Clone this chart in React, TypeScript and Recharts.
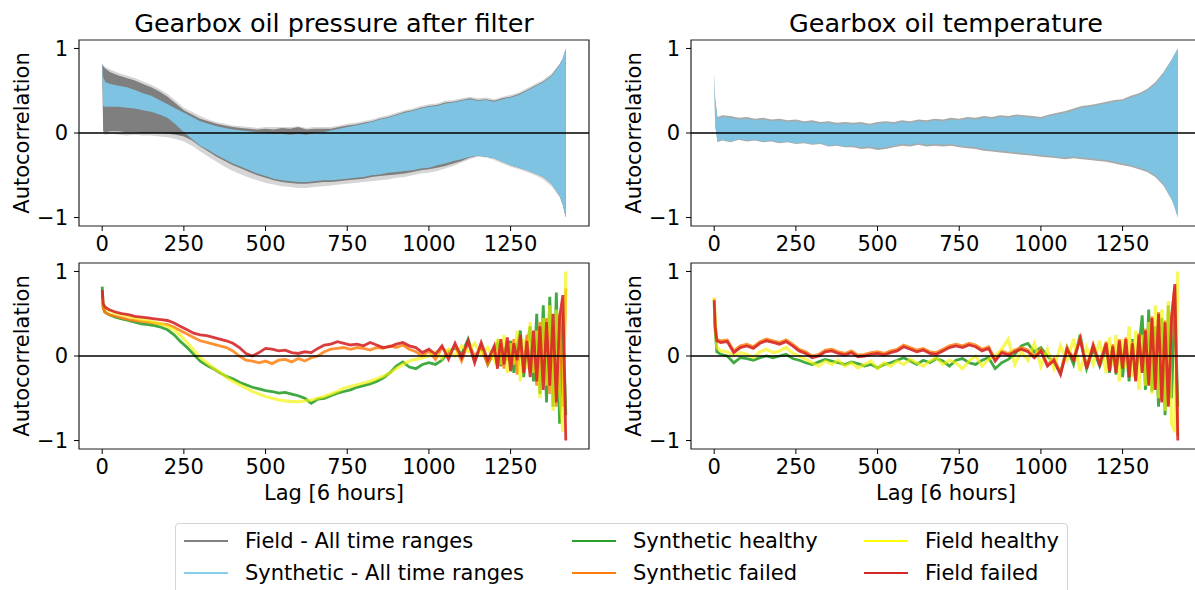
import React from 'react';
import {
  ComposedChart, LineChart, Line, Area, XAxis, YAxis, ReferenceLine, ReferenceArea
} from 'recharts';

// lags used for the envelope bands (top row)
const bandLags = [
  0, 3, 10, 25, 50, 75, 100, 125, 150, 175, 200, 225,
  250, 275, 300, 325, 350, 375, 400, 425, 450, 475,
  500, 525, 550, 575, 600, 625, 650, 675, 700, 725,
  750, 775, 800, 825, 850, 875, 900, 925, 950, 975,
  1000, 1025, 1050, 1075, 1100, 1125, 1150, 1175, 1200, 1225,
  1250, 1275, 1300, 1325, 1350, 1375, 1400,
  1410, 1419,
];

// pressure: synthetic envelope
const pSynthHi = [
  0.82, 0.66, 0.6, 0.58, 0.56, 0.54, 0.51, 0.47, 0.44, 0.39, 0.34, 0.29,
  0.24, 0.19, 0.14, 0.11, 0.08, 0.06, 0.04, 0.03, 0.02, 0.01,
  0.0, -0.01, -0.01, -0.02, -0.01, -0.02, 0.0, 0.01, 0.03, 0.05,
  0.07, 0.09, 0.11, 0.13, 0.16, 0.18, 0.21, 0.24, 0.26, 0.29,
  0.31, 0.32, 0.35, 0.36, 0.38, 0.4, 0.38, 0.39, 0.37, 0.4,
  0.42, 0.45, 0.5, 0.55, 0.6, 0.67, 0.8,
  0.88, 1.0,
];
const pSynthLo = [
  0.8, 0.32, 0.31, 0.31, 0.31, 0.3, 0.29, 0.27, 0.25, 0.22, 0.18, 0.1,
  0.01, -0.07, -0.15, -0.2, -0.26, -0.31, -0.36, -0.4, -0.44, -0.48,
  -0.51, -0.54, -0.56, -0.57, -0.58, -0.58, -0.57, -0.56, -0.56, -0.55,
  -0.54, -0.53, -0.52, -0.5, -0.49, -0.47, -0.46, -0.45, -0.44, -0.42,
  -0.41, -0.38, -0.36, -0.33, -0.31, -0.28, -0.27, -0.28, -0.3, -0.34,
  -0.38, -0.41, -0.44, -0.48, -0.52, -0.6, -0.74,
  -0.85, -1.0,
];
// pressure: field envelope (dense core and faint outer lines)
const pFieldCoreHi = [
  0.82, 0.79, 0.76, 0.72, 0.68, 0.65, 0.62, 0.58, 0.54, 0.49, 0.43, 0.35,
  0.27, 0.22, 0.17, 0.14, 0.11, 0.09, 0.07, 0.06, 0.05, 0.04,
  0.05, 0.04, 0.06, 0.05, 0.07, 0.04, 0.05, 0.05, 0.05, 0.07,
  0.09, 0.1, 0.12, 0.14, 0.17, 0.19, 0.22, 0.25, 0.27, 0.3,
  0.32, 0.33, 0.36, 0.37, 0.39, 0.41, 0.39, 0.4, 0.38, 0.41,
  0.43, 0.46, 0.51, 0.56, 0.61, 0.68, 0.81,
  0.88, 1.0,
];
const pFieldCoreLo = [
  0.8, 0.02, 0.01, 0.02, 0.02, 0.01, 0.01, 0.0, 0.0, 0.0, -0.01, -0.02,
  -0.04, -0.09, -0.16, -0.22, -0.28, -0.33, -0.38, -0.42, -0.46, -0.5,
  -0.53, -0.56, -0.58, -0.59, -0.6, -0.6, -0.59, -0.58, -0.58, -0.57,
  -0.56, -0.55, -0.54, -0.52, -0.51, -0.5, -0.49, -0.48, -0.46, -0.44,
  -0.43, -0.41, -0.39, -0.36, -0.33, -0.29, -0.27, -0.28, -0.3, -0.34,
  -0.38, -0.41, -0.44, -0.48, -0.52, -0.6, -0.74,
  -0.85, -1.0,
];
const pFieldOuterHi = [
  0.82, 0.8, 0.78, 0.75, 0.71, 0.68, 0.65, 0.61, 0.57, 0.52, 0.46, 0.38,
  0.3, 0.25, 0.2, 0.16, 0.13, 0.11, 0.09, 0.08, 0.07, 0.06,
  0.07, 0.07, 0.07, 0.07, 0.08, 0.06, 0.07, 0.07, 0.07, 0.09,
  0.11, 0.12, 0.14, 0.16, 0.19, 0.21, 0.24, 0.27, 0.29, 0.32,
  0.34, 0.35, 0.38, 0.39, 0.41, 0.43, 0.41, 0.42, 0.4, 0.43,
  0.45, 0.48, 0.53, 0.58, 0.63, 0.7, 0.82,
  0.89, 1.0,
];
const pFieldOuterLo = [
  0.8, -0.01, -0.02, -0.01, -0.02, -0.03, -0.02, -0.03, -0.03, -0.04, -0.05, -0.07,
  -0.1, -0.15, -0.22, -0.28, -0.34, -0.4, -0.45, -0.49, -0.53, -0.56,
  -0.59, -0.61, -0.63, -0.64, -0.65, -0.65, -0.64, -0.63, -0.62, -0.61,
  -0.6, -0.59, -0.58, -0.57, -0.56, -0.55, -0.53, -0.52, -0.5, -0.48,
  -0.47, -0.45, -0.42, -0.39, -0.35, -0.31, -0.28, -0.29, -0.32, -0.36,
  -0.4, -0.43, -0.46, -0.5, -0.55, -0.63, -0.76,
  -0.86, -1.0,
];

// temperature envelopes
const tSynthHi = [
  0.66, 0.4, 0.17, 0.19, 0.18, 0.16, 0.17, 0.15, 0.16, 0.14, 0.15, 0.13,
  0.14, 0.12, 0.13, 0.11, 0.12, 0.1, 0.11, 0.1, 0.11, 0.09,
  0.11, 0.12, 0.11, 0.13, 0.12, 0.14, 0.13, 0.15, 0.14, 0.16,
  0.15, 0.17, 0.16, 0.18, 0.17, 0.19, 0.18, 0.2, 0.19, 0.18,
  0.17, 0.2, 0.22, 0.24, 0.27, 0.3, 0.31, 0.33, 0.35, 0.37,
  0.38, 0.42, 0.45, 0.5, 0.58, 0.7, 0.86,
  0.93, 1.0,
];
const tSynthLo = [
  0.64, 0.1, -0.1, -0.08, -0.1, -0.07, -0.09, -0.08, -0.1, -0.09, -0.11, -0.1,
  -0.12, -0.11, -0.13, -0.12, -0.15, -0.14, -0.16, -0.15, -0.17, -0.16,
  -0.18, -0.17, -0.15, -0.13, -0.14, -0.12, -0.14, -0.13, -0.14, -0.13,
  -0.15, -0.16, -0.17, -0.19, -0.2, -0.21, -0.22, -0.23, -0.24, -0.25,
  -0.26, -0.27, -0.28, -0.29, -0.28, -0.29, -0.3, -0.31, -0.32, -0.34,
  -0.36, -0.38, -0.41, -0.44, -0.5, -0.6, -0.78,
  -0.88, -1.0,
];
const tFieldHi = [
  0.71, 0.42, 0.19, 0.21, 0.2, 0.18, 0.19, 0.17, 0.18, 0.16, 0.17, 0.15,
  0.16, 0.14, 0.15, 0.13, 0.14, 0.12, 0.13, 0.12, 0.13, 0.11,
  0.13, 0.14, 0.13, 0.15, 0.14, 0.16, 0.15, 0.17, 0.16, 0.18,
  0.17, 0.19, 0.18, 0.2, 0.19, 0.21, 0.2, 0.22, 0.21, 0.2,
  0.19, 0.22, 0.24, 0.26, 0.29, 0.32, 0.33, 0.35, 0.37, 0.39,
  0.4, 0.44, 0.47, 0.52, 0.6, 0.72, 0.87,
  0.94, 1.0,
];
const tFieldLo = [
  0.64, 0.08, -0.11, -0.09, -0.11, -0.08, -0.1, -0.09, -0.11, -0.1, -0.12, -0.11,
  -0.13, -0.12, -0.14, -0.13, -0.16, -0.15, -0.17, -0.17, -0.19, -0.18,
  -0.2, -0.19, -0.17, -0.15, -0.16, -0.14, -0.16, -0.15, -0.16, -0.15,
  -0.17, -0.18, -0.19, -0.21, -0.22, -0.23, -0.24, -0.25, -0.26, -0.27,
  -0.28, -0.29, -0.3, -0.31, -0.3, -0.31, -0.32, -0.33, -0.34, -0.36,
  -0.38, -0.4, -0.43, -0.46, -0.52, -0.62, -0.79,
  -0.89, -1.0,
];

// lags used for the individual lines (bottom row)
const lineLags = [
  0, 3, 8, 20, 40, 60, 80, 100, 120, 140,
  160, 180, 200, 220, 240, 260, 280, 300, 320, 340,
  360, 380, 400, 420, 440, 460, 480, 500, 520, 540,
  560, 580, 600, 620, 640, 660, 680, 700, 720, 740,
  760, 780, 800, 820, 840, 860, 880, 900, 920, 940,
  960, 980, 1000, 1020, 1040, 1060, 1080, 1100, 1120, 1140,
  1160, 1180, 1200,
  1210, 1220, 1230, 1240, 1250, 1260, 1270, 1280, 1290, 1300,
  1310, 1320, 1330, 1340, 1350, 1360, 1370, 1380, 1390, 1400,
  1410, 1419,
];

// pressure lines
const pGreen = [
  0.82, 0.58, 0.52, 0.49, 0.46, 0.44, 0.42, 0.4, 0.38, 0.37,
  0.36, 0.34, 0.31, 0.25, 0.17, 0.1, 0.02, -0.06, -0.11, -0.15,
  -0.2, -0.24, -0.27, -0.31, -0.34, -0.37, -0.39, -0.41, -0.42, -0.44,
  -0.43, -0.45, -0.47, -0.5, -0.56, -0.51, -0.5, -0.47, -0.44, -0.42,
  -0.4, -0.37, -0.35, -0.33, -0.3, -0.26, -0.2, -0.12, -0.07, -0.13,
  -0.15, -0.1, -0.08, -0.1, -0.05, 0.05, 0.1, 0.02, 0.2, -0.05,
  0.12, -0.1, 0.05,
  0.15, -0.12, 0.1, -0.05, 0.18, -0.2, 0.12, 0.3, -0.25, 0.1,
  0.35, -0.3, 0.5, -0.45, 0.6, -0.55, 0.7, -0.6, 0.75, -0.8,
  0.5, -0.7,
];
const pOrange = [
  0.72, 0.56, 0.52, 0.49, 0.47, 0.45, 0.43, 0.42, 0.41, 0.4,
  0.39, 0.38, 0.37, 0.34, 0.3, 0.26, 0.22, 0.18, 0.16, 0.14,
  0.12, 0.1, 0.06, 0.0, -0.05, -0.06, -0.08, -0.06, -0.09, -0.05,
  -0.04, -0.07, -0.03, -0.06, -0.02, 0.0, 0.05, 0.08, 0.09, 0.1,
  0.08, 0.1, 0.09, 0.07, 0.1, 0.09, 0.12, 0.1, 0.13, 0.08,
  0.05, 0.0, 0.06, -0.04, 0.1, 0.02, 0.12, -0.06, 0.15, 0.0,
  0.1, -0.1, 0.08,
  -0.12, 0.15, -0.15, 0.18, -0.1, 0.2, -0.22, 0.12, -0.15, 0.25,
  -0.2, 0.2, -0.35, 0.4, -0.3, 0.45, -0.45, 0.35, -0.6, 0.5,
  -0.6, 0.8,
];
const pYellow = [
  0.68, 0.62, 0.58, 0.54, 0.51, 0.49, 0.47, 0.45, 0.43, 0.42,
  0.4, 0.38, 0.35, 0.31, 0.24, 0.16, 0.07, -0.02, -0.08, -0.14,
  -0.19, -0.25, -0.3, -0.34, -0.38, -0.42, -0.45, -0.48, -0.5, -0.52,
  -0.53, -0.54, -0.54, -0.53, -0.52, -0.5, -0.48, -0.45, -0.42, -0.38,
  -0.36, -0.34, -0.32, -0.3, -0.27, -0.24, -0.2, -0.15, -0.1, -0.06,
  -0.04, -0.02, 0.0, 0.05, -0.03, 0.08, 0.0, 0.12, 0.05, 0.15,
  0.02, 0.1, -0.05,
  0.2, -0.1, 0.25, -0.2, 0.15, -0.1, 0.3, -0.3, 0.2, -0.15,
  0.4, -0.2, 0.3, -0.5, 0.45, -0.35, 0.6, -0.65, 0.55, -0.4,
  -0.9, 1.0,
];
const pRed = [
  0.78, 0.62, 0.58, 0.55, 0.52, 0.5, 0.49, 0.47, 0.46, 0.45,
  0.44, 0.43, 0.42, 0.39, 0.35, 0.31, 0.27, 0.25, 0.24, 0.22,
  0.2, 0.18, 0.15, 0.1, 0.03, 0.0, 0.04, 0.09, 0.08, 0.06,
  0.07, 0.04, 0.03, 0.05, 0.04, 0.09, 0.13, 0.14, 0.17, 0.15,
  0.13, 0.14, 0.12, 0.16, 0.13, 0.1, 0.11, 0.14, 0.16, 0.12,
  0.1, 0.04, 0.08, 0.02, 0.12, -0.04, 0.15, -0.02, 0.18, -0.08,
  0.16, -0.05, 0.12,
  -0.15, 0.2, -0.1, 0.22, -0.18, 0.15, -0.05, 0.25, -0.2, 0.18,
  -0.25, 0.3, -0.3, 0.35, -0.4, 0.4, -0.35, 0.5, -0.55, 0.45,
  0.72, -1.0,
];

// temperature lines
const tGreen = [
  0.62, 0.3, 0.05, 0.02, 0.0, -0.08, -0.02, -0.03, -0.05, -0.02,
  0.0, -0.02, 0.0, 0.02, -0.03, -0.05, -0.08, -0.1, -0.07, -0.04,
  -0.06, -0.08, -0.1, -0.07, -0.09, -0.12, -0.1, -0.14, -0.1, -0.08,
  -0.05, -0.02, -0.06, -0.1, -0.05, -0.08, -0.03, -0.06, -0.12, -0.05,
  -0.03, -0.08, -0.1, -0.05, -0.02, -0.15, -0.08, -0.04, 0.02, 0.12,
  0.15, 0.05, 0.1, 0.0, -0.08, -0.2, 0.1, -0.1, 0.25, -0.15,
  0.08, -0.12, 0.1,
  -0.2, 0.1, -0.22, 0.15, -0.25, 0.12, -0.3, 0.2, -0.28, 0.1,
  0.48, -0.4, 0.55, -0.42, 0.35, -0.6, 0.45, -0.7, 0.6, -0.5,
  0.7, -0.6,
];
const tOrange = [
  0.68, 0.38, 0.2, 0.18, 0.19, 0.06, 0.12, 0.14, 0.11, 0.17,
  0.2, 0.18, 0.16, 0.19, 0.14, 0.08, 0.05, 0.0, 0.02, 0.07,
  0.08, 0.05, 0.03, 0.06, 0.01, 0.02, 0.04, 0.05, 0.03, 0.06,
  0.08, 0.13, 0.1, 0.07, 0.09, 0.05, 0.04, 0.08, 0.12, 0.14,
  0.12, 0.15, 0.13, 0.08, 0.11, -0.04, 0.06, 0.03, 0.07, 0.1,
  0.07, 0.0, 0.08, -0.1, -0.03, -0.2, 0.1, -0.03, 0.22, -0.13,
  0.14, -0.08, 0.17,
  -0.16, 0.14, -0.18, 0.2, -0.13, 0.22, -0.23, 0.17, -0.28, 0.27,
  -0.18, 0.32, -0.33, 0.47, -0.38, 0.52, -0.53, 0.42, -0.58, 0.47,
  0.82, -0.95,
];
const tYellow = [
  0.69, 0.4, 0.1, 0.06, 0.05, 0.0, 0.04, 0.02, -0.02, 0.05,
  0.08, 0.04, 0.06, 0.1, 0.03, 0.0, -0.04, -0.08, -0.12, -0.06,
  -0.1, -0.05, -0.12, -0.08, -0.14, -0.1, -0.06, -0.15, -0.08, -0.12,
  -0.06, -0.1, -0.04, -0.08, -0.12, -0.06, -0.02, -0.1, -0.05, -0.08,
  -0.15, -0.06, 0.0, -0.12, -0.04, 0.0, 0.08, 0.2, -0.1, 0.05,
  -0.05, 0.15, -0.12, 0.08, -0.15, 0.12, -0.05, 0.2, -0.18, 0.1,
  -0.1, 0.18, -0.2,
  0.22, -0.12, 0.25, -0.3, 0.2, -0.15, 0.35, -0.25, 0.3, -0.4,
  0.25, -0.35, 0.4, -0.45, 0.6, -0.5, 0.55, -0.65, 0.65, -0.8,
  -0.9, 1.0,
];
const tRed = [
  0.66, 0.35, 0.18, 0.16, 0.17, 0.04, 0.1, 0.12, 0.09, 0.15,
  0.18, 0.16, 0.14, 0.17, 0.12, 0.06, 0.03, -0.02, 0.0, 0.05,
  0.06, 0.03, 0.01, 0.04, -0.01, 0.0, 0.02, 0.03, 0.01, 0.04,
  0.06, 0.11, 0.08, 0.05, 0.07, 0.03, 0.02, 0.06, 0.1, 0.12,
  0.1, 0.13, 0.11, 0.06, 0.09, -0.06, 0.04, 0.01, 0.05, 0.08,
  0.05, -0.02, 0.06, -0.12, -0.05, -0.22, 0.08, -0.05, 0.2, -0.15,
  0.12, -0.1, 0.15,
  -0.18, 0.12, -0.2, 0.18, -0.15, 0.2, -0.25, 0.15, -0.3, 0.25,
  -0.2, 0.3, -0.35, 0.45, -0.4, 0.5, -0.55, 0.4, -0.6, 0.45,
  0.85, -1.0,
];

const xTicks = [0, 250, 500, 750, 1000, 1250];
const yTicks = [-1, 0, 1];

const legendItems = [
  { label: 'Field - All time ranges', color: '#808080', col: 0, row: 0 },
  { label: 'Synthetic - All time ranges', color: '#87ceeb', col: 0, row: 1 },
  { label: 'Synthetic healthy', color: '#2ca02c', col: 1, row: 0 },
  { label: 'Synthetic failed', color: '#ff7f0e', col: 1, row: 1 },
  { label: 'Field healthy', color: '#ffff00', col: 2, row: 0 },
  { label: 'Field failed', color: '#d62728', col: 2, row: 1 },
];

const PLOT_W = 510;
const PLOT_H = 186;
const Y_W = 70;
const MARGIN = { top: 4, right: 4, left: 0, bottom: 0 };
const BLUE = '#7ec4e2';
const FS = 21;

const fmtY = (v: number) => (v < 0 ? `\u2212${Math.abs(v)}` : `${v}`);

const xAxis = (height: number, withLabel: boolean) => (
  <XAxis
    type="number"
    dataKey="lag"
    domain={[-71, 1490]}
    ticks={xTicks}
    interval={0}
    allowDataOverflow
    axisLine={false}
    tickLine={{ stroke: '#000' }}
    tickSize={5}
    tickMargin={5}
    tick={{ fill: '#000', fontSize: FS }}
    height={height}
    label={withLabel ? {
      value: 'Lag [6 hours]', position: 'insideBottom', offset: 13,
      style: { fill: '#000', fontSize: FS },
    } : undefined}
  />
);

const yAxis = () => (
  <YAxis
    type="number"
    domain={[-1.1, 1.1]}
    ticks={yTicks}
    interval={0}
    allowDataOverflow
    axisLine={false}
    tickLine={{ stroke: '#000' }}
    tickSize={5}
    tickMargin={6}
    tick={{ fill: '#000', fontSize: FS }}
    tickFormatter={fmtY}
    width={Y_W}
    label={{
      value: 'Autocorrelation', angle: -90, position: 'insideLeft', offset: 13,
      style: { textAnchor: 'middle', fill: '#000', fontSize: FS },
    }}
  />
);

const frame = () => (
  <ReferenceArea x1={-71} x2={1490} y1={-1.1} y2={1.1} fill="none" stroke="#222" strokeWidth={1.2} />
);

const zero = () => <ReferenceLine y={0} stroke="#000" strokeWidth={1.6} />;

const pressureBands = bandLags.map((lag, i) => ({
  lag,
  outer: [pFieldOuterLo[i], pFieldOuterHi[i]],
  core: [pFieldCoreLo[i], pFieldCoreHi[i]],
  synth: [pSynthLo[i], pSynthHi[i]],
}));

const tempBands = bandLags.map((lag, i) => ({
  lag,
  core: [tFieldLo[i], tFieldHi[i]],
  synth: [tSynthLo[i], tSynthHi[i]],
}));

const pressureLines = lineLags.map((lag, i) => ({
  lag, green: pGreen[i], orange: pOrange[i], yellow: pYellow[i], red: pRed[i],
}));

const tempLines = lineLags.map((lag, i) => ({
  lag, green: tGreen[i], orange: tOrange[i], yellow: tYellow[i], red: tRed[i],
}));

function BandChart({ data, left, top, hasOuter, coreColor }: any) {
  const xh = 40;
  return (
    <div style={{ position: 'absolute', left: left - Y_W, top: top - MARGIN.top }}>
      <ComposedChart width={Y_W + PLOT_W + MARGIN.right} height={MARGIN.top + PLOT_H + xh} data={data} margin={MARGIN}>
        {xAxis(xh, false)}
        {yAxis()}
        {hasOuter && (
          <Area dataKey="outer" type="linear" stroke="none" fill="#d6d6d6" fillOpacity={1} isAnimationActive={false} />
        )}
        <Area dataKey="core" type="linear" stroke="none" fill={coreColor} fillOpacity={1} isAnimationActive={false} />
        <Area dataKey="synth" type="linear" stroke="none" fill={BLUE} fillOpacity={1} isAnimationActive={false} />
        {zero()}
        {frame()}
      </ComposedChart>
    </div>
  );
}

function LinesChart({ data, left, top }: any) {
  const xh = 64;
  return (
    <div style={{ position: 'absolute', left: left - Y_W, top: top - MARGIN.top }}>
      <LineChart width={Y_W + PLOT_W + MARGIN.right} height={MARGIN.top + PLOT_H + xh} data={data} margin={MARGIN}>
        {xAxis(xh, true)}
        {yAxis()}
        <Line dataKey="green" type="linear" stroke="#2ca02c" strokeWidth={2.8} strokeOpacity={0.9} dot={false} activeDot={false} isAnimationActive={false} />
        <Line dataKey="orange" type="linear" stroke="#ff7f0e" strokeWidth={2.8} strokeOpacity={0.85} dot={false} activeDot={false} isAnimationActive={false} />
        <Line dataKey="yellow" type="linear" stroke="#f2f200" strokeWidth={3.2} strokeOpacity={0.65} dot={false} activeDot={false} isAnimationActive={false} />
        <Line dataKey="red" type="linear" stroke="#d62728" strokeWidth={2.8} strokeOpacity={0.9} dot={false} activeDot={false} isAnimationActive={false} />
        {zero()}
        {frame()}
      </LineChart>
    </div>
  );
}

function Title({ text, left }: { text: string; left: number }) {
  return (
    <div style={{
      position: 'absolute', left, top: 8, width: PLOT_W, textAlign: 'center',
      fontSize: 25.5, lineHeight: '30px', color: '#000', whiteSpace: 'nowrap',
    }}>
      {text}
    </div>
  );
}

function Legend() {
  const colX = [8, 396, 688];
  const rowY = [17, 49];
  return (
    <div style={{
      position: 'absolute', left: 175, top: 523, width: 893, height: 72,
      border: '1px solid #d5d5d5', borderRadius: 4, background: '#fff', boxSizing: 'border-box',
    }}>
      {legendItems.map((it) => (
        <div key={it.label} style={{ position: 'absolute', left: colX[it.col], top: rowY[it.row] - 14, height: 28 }}>
          <div style={{ position: 'absolute', left: 0, top: 13, width: 44, height: 2, background: it.color }} />
          <div style={{ position: 'absolute', left: 61, top: 0, fontSize: FS, lineHeight: '28px', whiteSpace: 'nowrap', color: '#000' }}>
            {it.label}
          </div>
        </div>
      ))}
    </div>
  );
}

export default function App() {
  return (
    <div style={{
      position: 'absolute', left: 0, top: 0, width: 1195, height: 590, overflow: 'hidden',
      background: '#fff', fontFamily: '"DejaVu Sans", sans-serif',
    }}>
      <Title text="Gearbox oil pressure after filter" left={79} />
      <Title text="Gearbox oil temperature" left={691} />
      <BandChart data={pressureBands} left={79} top={40} hasOuter coreColor="#7f7f7f" />
      <BandChart data={tempBands} left={691} top={40} hasOuter={false} coreColor="#a9a9a9" />
      <LinesChart data={pressureLines} left={79} top={263} />
      <LinesChart data={tempLines} left={691} top={263} />
      <Legend />
    </div>
  );
}
